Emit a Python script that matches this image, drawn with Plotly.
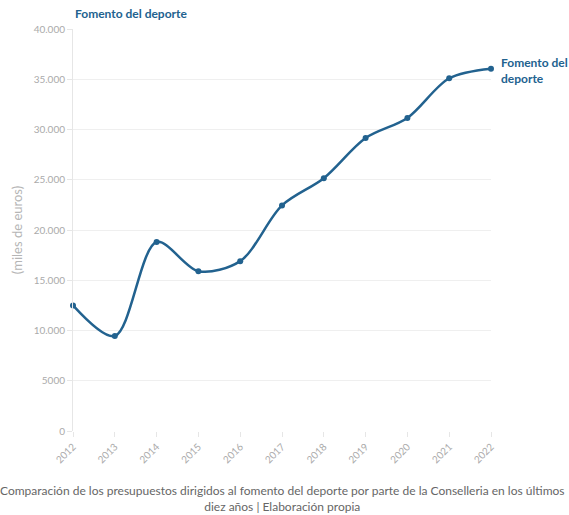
import plotly.graph_objects as go

years = [2012, 2013, 2014, 2015, 2016, 2017, 2018, 2019, 2020, 2021, 2022]
values = [12500, 9450, 18800, 15900, 16900, 22450, 25150, 29150, 31150, 35100, 36050]
ytick_vals = [0, 5000, 10000, 15000, 20000, 25000, 30000, 35000, 40000]
ytick_text = ["0", "5000", "10.000", "15.000", "20.000", "25.000", "30.000", "35.000", "40.000"]
series_name = "Fomento del deporte"
caption = "Comparación de los presupuestos dirigidos al fomento del deporte por parte de la Conselleria en los últimos<br>diez años | Elaboración propia"

blue = "#22628f"
font = "Lato, 'Open Sans', sans-serif"

fig = go.Figure()
fig.add_trace(go.Scatter(
    x=years, y=values, mode="lines+markers",
    line=dict(color=blue, width=2.5, shape="spline", smoothing=0.9),
    marker=dict(color=blue, size=6),
    name=series_name, showlegend=False, cliponaxis=False,
))

fig.add_annotation(x=years[-1], y=values[-1], xref="x", yref="y",
                   text="<b>Fomento del<br>deporte</b>", showarrow=False,
                   xanchor="left", yanchor="middle", xshift=8, yshift=-2,
                   align="left", font=dict(family=font, size=12, color=blue))
fig.add_annotation(x=0, y=1, xref="paper", yref="paper",
                   text="<b>Fomento del deporte</b>", showarrow=False,
                   xanchor="left", yanchor="bottom", yshift=6,
                   font=dict(family=font, size=12, color=blue))
fig.add_annotation(x=0.5, y=0, xref="paper", yref="paper",
                   text=caption, showarrow=False,
                   xanchor="center", yanchor="top", yshift=-50,
                   font=dict(family=font, size=12, color="#666666"))

fig.update_layout(
    width=569, height=515,
    margin=dict(l=73, r=78, t=29, b=84),
    paper_bgcolor="white", plot_bgcolor="white",
    font=dict(family=font, color="#aaaaaa", size=10),
)
fig.update_xaxes(
    range=[2012, 2022], tickvals=years, ticktext=[str(y) for y in years],
    tickangle=-45, showgrid=False, zeroline=False,
    ticks="outside", ticklen=5, tickcolor="#e6e6e6",
    showline=False, tickfont=dict(size=10, color="#aaaaaa"),
)
fig.update_yaxes(
    range=[0, 40000], tickvals=ytick_vals, ticktext=ytick_text,
    showgrid=True, gridcolor="#efefef", zeroline=False,
    showline=True, linecolor="#e6e6e6", linewidth=1,
    ticks="outside", ticklen=5, tickcolor="#e6e6e6",
    tickfont=dict(size=10, color="#aaaaaa"),
    title=dict(text="(miles de euros)", font=dict(size=13, color="#b5b5b5"), standoff=8),
)
fig.write_html("out.html", config={"displayModeBar": False},
               post_script="document.body.style.margin='0';document.body.style.overflow='hidden';")
